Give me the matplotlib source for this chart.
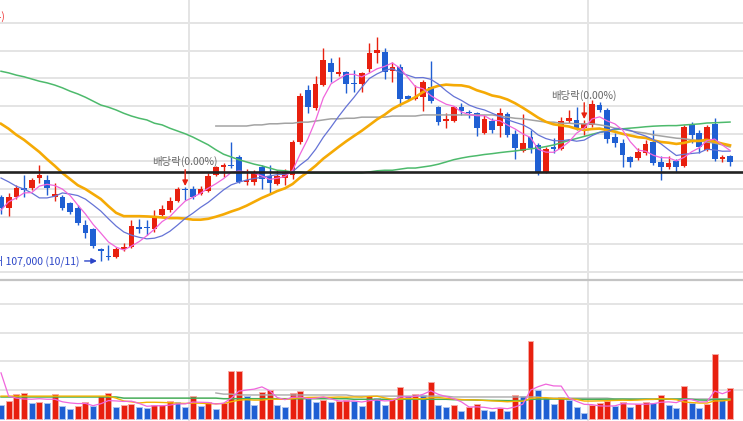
import numpy as np
import pandas as pd
import matplotlib
matplotlib.use("Agg")
import matplotlib.pyplot as plt

plt.rcParams['font.family'] = ['Noto Sans CJK KR', 'DejaVu Sans']

# === Daily candles (won) ===
opens = [118600, 116600, 118600, 120200, 120200, 122000, 121600, 118600, 118600, 117500,
         116600, 113500, 112800, 109200, 107900, 107700, 109200, 109500, 113100, 113100,
         112800, 115300, 116200, 117800, 120000, 120000, 119100, 119600, 122500, 124000,
         124400, 125800, 121300, 121300, 124000, 122400, 120900, 122000, 122500, 128500,
         137900, 134700, 138800, 142800, 140800, 141200, 139200, 139000, 141700, 144600,
         144800, 141300, 142100, 136800, 136300, 136600, 138500, 134800, 132300, 132300,
         134800, 133900, 133700, 130100, 132300, 131400, 133600, 130000, 126900, 129400,
         128000, 123100, 127600, 127200, 132300, 132500, 131000, 131600, 135200, 134300,
         129400, 128300, 125800, 125600, 126500, 128500, 124900, 124000, 125100, 124200,
         131800, 130100, 127100, 131800, 125400, 126000]
highs = [118900, 119300, 120700, 122500, 122000, 124400, 122500, 121100, 118900, 117700,
         117100, 114400, 113000, 109300, 109900, 109500, 110200, 114400, 114600, 114400,
         116200, 117100, 118600, 120400, 120400, 120500, 120500, 122900, 124200, 124700,
         128500, 126200, 123600, 123400, 124400, 124400, 123400, 123600, 128900, 137400,
         138800, 140400, 145500, 143700, 143900, 141300, 141500, 141200, 146400, 147500,
         145500, 143000, 142600, 137000, 138800, 139700, 143200, 135000, 133700, 135000,
         135600, 134300, 133900, 133400, 132800, 134700, 133900, 130700, 133600, 130700,
         128300, 127600, 129200, 133000, 134300, 134800, 132500, 136100, 135700, 134700,
         130100, 129100, 126000, 127400, 128900, 130700, 126000, 126000, 125400, 131600,
         132100, 130700, 131600, 132800, 126200, 126200]
lows = [115500, 115100, 118200, 118600, 119800, 121100, 118900, 117800, 116200, 115500,
        113500, 111200, 109300, 107000, 107200, 107500, 108800, 109300, 112100, 111700,
        112200, 115100, 115800, 117700, 118000, 118200, 118900, 119500, 122400, 122200,
        123800, 121100, 120700, 120700, 120000, 119300, 120700, 120700, 121800, 128100,
        133700, 134300, 138600, 139400, 140400, 137400, 137500, 137500, 141200, 142800,
        139900, 139400, 135000, 136100, 136100, 134100, 135600, 131600, 131000, 132100,
        133400, 132800, 129600, 130000, 130100, 129400, 129400, 125400, 126700, 126500,
        122500, 122900, 126500, 127100, 131900, 130700, 129800, 131200, 133900, 128300,
        127600, 124000, 124000, 125300, 126200, 124400, 121600, 123600, 123100, 124000,
        128300, 126500, 126900, 125100, 124900, 124200]
closes = [116600, 118600, 120200, 119800, 121600, 122500, 120200, 119100, 116600, 115800,
          113900, 112100, 109700, 108800, 107700, 109200, 109500, 113300, 112800, 113000,
          115100, 116400, 117800, 120000, 119800, 118600, 120000, 122400, 124000, 124400,
          124200, 121300, 121600, 122900, 121800, 121100, 122400, 123100, 128500, 136800,
          134800, 139000, 143300, 141200, 141200, 139000, 139000, 141000, 144600, 145100,
          141200, 142100, 136300, 136300, 136600, 139400, 135900, 132100, 132700, 134800,
          134100, 133700, 131000, 132700, 130700, 133700, 129800, 127400, 128300, 127400,
          123100, 127200, 127200, 132300, 132800, 131000, 131800, 135400, 134300, 129100,
          128300, 126200, 124900, 126700, 128100, 124700, 124000, 124700, 124000, 131200,
          129800, 127600, 131200, 125400, 125800, 124900]
volumes = [48000, 63000, 85000, 91000, 54000, 57000, 54000, 85000, 46000, 34000,
           46000, 57000, 46000, 79000, 89000, 40000, 48000, 51000, 40000, 39000,
           48000, 49000, 63000, 60000, 40000, 80000, 45000, 59000, 33000, 54000,
           167000, 168000, 79000, 49000, 93000, 100000, 49000, 42000, 91000, 97000,
           71000, 57000, 65000, 57000, 62000, 65000, 62000, 46000, 80000, 74000,
           49000, 69000, 110000, 79000, 85000, 84000, 129000, 49000, 40000, 49000,
           27000, 40000, 52000, 31000, 27000, 39000, 27000, 83000, 79000, 271000,
           100000, 71000, 52000, 76000, 65000, 40000, 19000, 47000, 54000, 61000,
           45000, 57000, 41000, 51000, 60000, 54000, 82000, 48000, 37000, 114000,
           55000, 38000, 52000, 225000, 67000, 106000]

# moving-average values before the window is long enough
ma5_head = [116200, 117700, 118400, 119300]
ma10_head = [122000, 121300, 120500, 120000, 119300, 118400, 118400, 118700, 119300]
ma20_head = [131800, 130900, 129800, 128900, 127800, 126700, 125400, 124200, 122900, 121800,
             120700, 120000, 119100, 118200, 116900, 115700, 115100, 115100, 115100]
ma60_head = [141300, 141000, 140600, 140300, 139900, 139500, 139200, 138800, 138300, 137700,
             137200, 136600, 135900, 135200, 134800, 134300, 133700, 133200, 132800, 132500,
             131900, 131600, 131000, 130500, 130000, 129400, 128700, 128000, 127100, 126300,
             125800, 125300, 124900, 124500, 124200, 123800, 123400, 123300, 123100, 123100,
             122900, 122900, 122900, 122900, 122900, 122900, 122900, 122900, 123100, 123300,
             123400, 123400, 123600, 123800, 123800, 124000, 124200, 124500, 124900]
ma120_start = 28
ma120_vals = [131400, 131400, 131400, 131400, 131400, 131600, 131600, 131800, 131800, 131900,
              131900, 132100, 132100, 132300, 132500, 132700, 132700, 132800, 132800, 133000,
              133000, 133000, 133000, 133200, 133200, 133200, 133200, 133400, 133400, 133400,
              133400, 133400, 133400, 133400, 133400, 133400, 133400, 133200, 133000, 132800,
              132700, 132500, 132300, 132100, 132100, 131900, 131900, 131800, 131800, 131800,
              131600, 131400, 131000, 130900, 130500, 130300, 130100, 129800, 129600, 129400,
              129200, 129100, 128900, 128700, 128500, 128300, 128000, 127600]

vma5_head = [160000, 79000, 72000, 69000]
vma20_head = [79000, 79000, 79000, 79000, 79000, 79000, 79000, 79000, 79000, 79000,
              79000, 79000, 79000, 79000, 79000, 72000, 62000, 59000, 55000]
vma60_head = [76000, 76000, 76000, 76000, 76000, 76000, 76000, 76000, 76000, 76000,
              76000, 76000, 76000, 76000, 76000, 76000, 72000, 72000, 72000, 72000,
              72000, 72000, 72000, 72000, 72000, 72000, 72000, 72000, 72000, 70000,
              70000, 70000, 70000, 70000, 70000, 70000, 70000, 70000, 70000, 70000,
              70000, 70000, 70000, 70000, 70000, 70000, 68000, 68000, 68000, 68000,
              68000, 68000, 68000, 68000, 68000, 68000, 68000, 68000, 68000]
vma120_vals = [90000, 86000, 86000, 83000, 83000, 83000, 83000, 83000, 83000, 83000,
               83000, 83000, 83000, 83000, 83000, 83000, 83000, 83000, 79000, 79000,
               79000, 79000, 79000, 79000, 79000, 79000, 79000, 79000, 79000, 79000,
               79000, 76000, 76000, 76000, 76000, 76000, 76000, 76000, 76000, 76000,
               76000, 76000, 76000, 72000, 72000, 72000, 72000, 72000, 72000, 72000,
               72000, 72000, 69000, 69000, 69000, 69000, 69000, 69000, 69000, 69000,
               69000, 69000, 69000, 69000, 69000, 69000, 69000, 69000]

ref_price = 123000          # black reference line
ex_div_days = [24, 76]      # 배당락 markers
low_date = "10/11"
high_label = "최고 156,000 (08/14)"

# === Style ===
UP = '#e8200f'
DOWN = '#1f5fd3'
GRID = '#e4e4e4'


def with_head(values, n, head):
    ma = pd.Series(values, dtype=float).rolling(n).mean()
    ma.iloc[:len(head)] = head
    return ma.values


n = len(closes)
x = np.arange(n)
o = np.array(opens, float)
h = np.array(highs, float)
l = np.array(lows, float)
c = np.array(closes, float)
v = np.array(volumes, float)

ma5 = with_head(c, 5, ma5_head)
ma10 = with_head(c, 10, ma10_head)
ma20 = with_head(c, 20, ma20_head)
ma60 = with_head(c, 60, ma60_head)
ma120 = np.full(n, np.nan)
ma120[ma120_start:] = ma120_vals

vma5 = with_head(v, 5, vma5_head)
vma20 = with_head(v, 20, vma20_head)
vma60 = with_head(v, 60, vma60_head)
vma120 = np.full(n, np.nan)
vma120[ma120_start:] = vma120_vals

fig = plt.figure(figsize=(7.43, 4.21), dpi=100)
ax = fig.add_axes([0, 1 - 280 / 421, 1, 280 / 421])
axv = fig.add_axes([0, 0, 1, 141 / 421])

xlim = (-0.13, n + 0.69)
for a in (ax, axv):
    a.set_xlim(*xlim)
    a.set_xticks([24.5, 76.5])
    a.tick_params(length=0, labelleft=False, labelbottom=False)
    a.grid(True, color=GRID, lw=1.4, zorder=0)
    a.set_axisbelow(True)
    for s in a.spines.values():
        s.set_visible(False)

# --- price panel ---
ax.set_ylim(103560, 154180)
ax.set_yticks(range(105000, 150001, 5000))

up = c >= o
colors = np.where(up, UP, DOWN)
body_lo = np.minimum(o, c)
body_h = np.maximum(np.abs(c - o), 180)
ax.vlines(x, l, h, colors=colors, lw=1.0, zorder=3)
ax.bar(x, body_h, bottom=body_lo, width=0.74, color=colors, lw=0, zorder=3)

ax.plot(x, ma120, color='#a3a3a3', lw=1.1, zorder=4)
ax.plot(x, ma60, color='#4dba6c', lw=1.1, zorder=4)
ax.plot(x, ma20, color='#f5aa05', lw=1.9, zorder=4)
ax.plot(x, ma10, color='#6573d6', lw=0.9, zorder=4)
ax.plot(x, ma5, color='#f066dc', lw=0.9, zorder=4)

ax.axhline(ref_price, color='#222222', lw=1.9, zorder=5)

for d in ex_div_days:
    ax.annotate('', xy=(d, h[d] + 150), xytext=(d, h[d] + 3100),
                arrowprops=dict(arrowstyle='-|>', color=UP, lw=1.0,
                                mutation_scale=8, shrinkA=0, shrinkB=0),
                zorder=6)
    ax.text(d - 0.1, h[d] + 3500, "배당락(0.00%)", color='#666666',
            fontsize=7.5, ha='center', va='bottom', zorder=6)

lo_i = int(np.argmin(l))
ax.text(lo_i - 2.75, l[lo_i], f"최저 {int(l[lo_i]):,} ({low_date})", color='#2b45c8',
        fontsize=7.5, ha='right', va='center', zorder=6)
ax.annotate('', xy=(lo_i - 0.5, l[lo_i]), xytext=(lo_i - 2.1, l[lo_i]),
            arrowprops=dict(arrowstyle='-|>', color='#2b45c8', lw=1.0,
                            mutation_scale=8, shrinkA=0, shrinkB=0), zorder=6)
ax.text(0.45, 151300, high_label, color='#ee3333', fontsize=7.5,
        ha='right', va='center', zorder=6)

# --- volume panel ---
axv.set_ylim(-7700, 483600)
axv.set_yticks([100000, 200000, 300000, 400000])
axv.spines['top'].set_visible(True)
axv.spines['top'].set_color('#c4c4c4')
axv.spines['top'].set_linewidth(1.6)

prev = np.concatenate([[v[0]], v[:-1]])
vcol = np.where(v > prev, UP, DOWN)
vedge = np.where(v > prev, '#f7a9a3', '#a9c3f0')
axv.bar(x, v, width=0.78, color=vcol, edgecolor=vedge, lw=0.7, zorder=2)

axv.plot(x, vma120, color='#aaaaaa', lw=1.0, zorder=3)
axv.plot(x, vma60, color='#46ad58', lw=1.1, zorder=3)
axv.plot(x, vma20, color='#f4b400', lw=1.0, zorder=3)
axv.plot(x, vma5, color='#f066dc', lw=0.9, zorder=3)

fig.savefig('out.png', dpi=100)
